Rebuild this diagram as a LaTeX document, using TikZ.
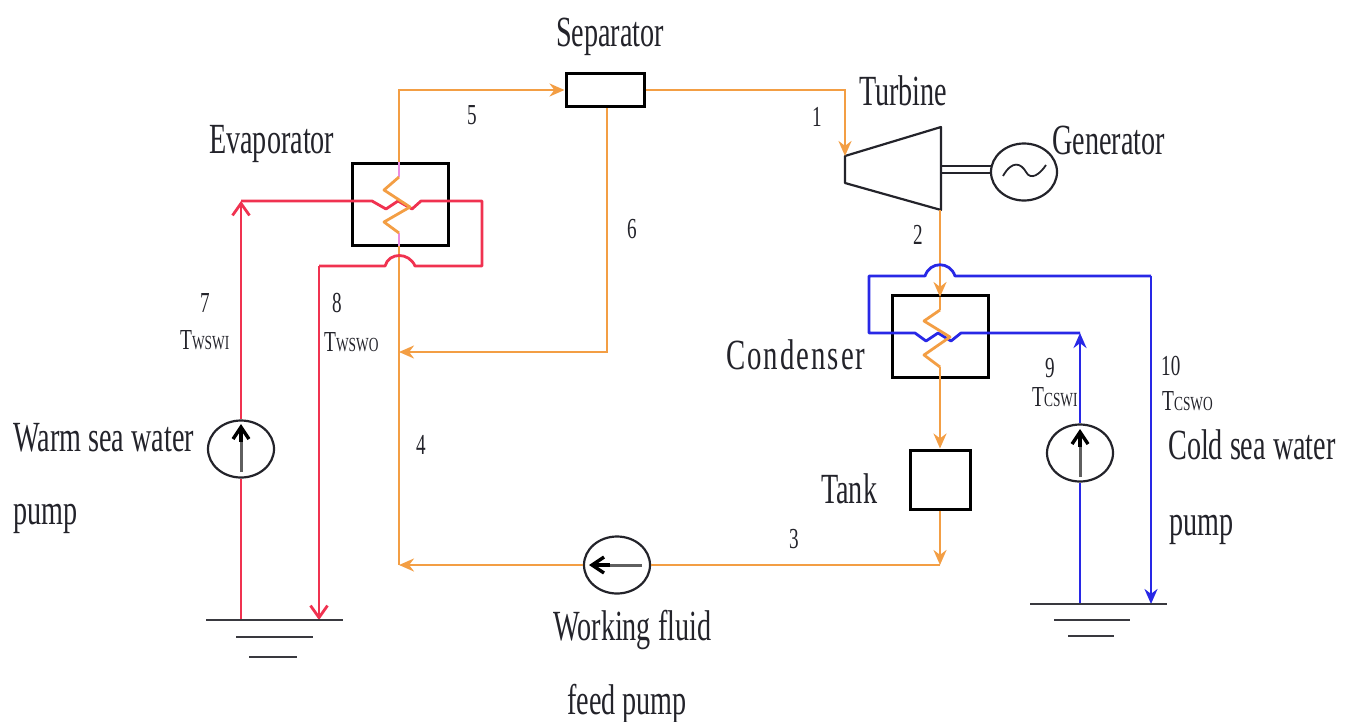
\documentclass[tikz,border=0pt]{standalone}
\usepackage{fontspec}
\setmainfont{Liberation Serif}
\usetikzlibrary{arrows.meta,calc,shapes.geometric}
\definecolor{wf}{RGB}{243,158,68}
\definecolor{warm}{RGB}{240,50,80}
\definecolor{cold}{RGB}{40,40,230}
\definecolor{ink}{RGB}{35,35,42}
\definecolor{shaftgrey}{RGB}{95,95,95}
\definecolor{pinkish}{RGB}{235,140,225}
\newcommand{\biglbl}[1]{\scalebox{.655}[1]{\fontsize{43}{43}\selectfont #1}}
\newcommand{\numlbl}[1]{\scalebox{.66}[1]{\fontsize{29}{29}\selectfont #1}}
\newcommand{\subT}[1]{\scalebox{.67}[1]{\fontsize{29}{29}\selectfont T\fontsize{20}{20}\selectfont #1}}
\tikzset{
  x=1pt,y=-1pt,
  fluid/.style={draw=wf,line width=2.8pt},
  hotline/.style={draw=warm,line width=2.8pt},
  coldline/.style={draw=cold,line width=2.8pt},
  fluidtip/.style={-{Stealth[length=15pt,width=13pt]}},
  barbtip/.style={-{Straight Barb[length=12pt,width=17pt,line width=2.8pt]}},
  hxbox/.style={draw=black,line width=3pt,minimum width=96pt,minimum height=82pt,inner sep=0pt,fill=none},
  plainbox/.style={draw=black,line width=3pt,inner sep=0pt},
  pumpcirc/.style={draw=ink,line width=2.2pt,ellipse,inner sep=0pt},
  mech/.style={draw=ink,line width=2.2pt},
  groundl/.style={draw=ink!90,line width=2.6pt},
  innershaft/.style={draw=shaftgrey,line width=3pt},
  innertip/.style={draw=black,line width=3.4pt,-{Straight Barb[length=12pt,width=16pt,line width=3.4pt]}},
  biglabel/.style={anchor=base west,inner sep=0pt,text=ink},
}
\begin{document}
\begin{tikzpicture}
\useasboundingbox (0,0) rectangle (1349,721);
% equipment nodes
\node[hxbox] (evap) at (400,204) {};
\node[hxbox] (cond) at (940,336.5) {};
\node[plainbox,minimum width=78pt,minimum height=33pt] (sep) at (605,90) {};
\node[plainbox,minimum width=60pt,minimum height=59pt] (tank) at (940,479.5) {};
\node[pumpcirc,minimum width=66pt,minimum height=57pt] (gen) at (1024,172) {};
\node[pumpcirc,minimum width=66pt,minimum height=57pt] (pumpw) at (241,449) {};
\node[pumpcirc,minimum width=66pt,minimum height=57pt] (pumpc) at (1080,453) {};
\node[pumpcirc,minimum width=66pt,minimum height=57pt] (pumpf) at (617,565) {};
% turbine
\coordinate (tin) at (845,156);
\coordinate (ttop) at (941,127);
\coordinate (tbot) at (941,210);
\coordinate (tlow) at (845,183);
\coordinate (sh1) at (941,166);
\coordinate (sh2) at (941,173);
\coordinate (sh1g) at (992,166);
\coordinate (sh2g) at (992,173);
\draw[mech,line join=round] (tin) -- (ttop) -- (tbot) -- (tlow) -- cycle;
\draw[mech,line width=1.6pt] (sh1) -- (sh1g);
\draw[mech,line width=1.6pt] (sh2) -- (sh2g);
\draw[mech,line width=1.8pt] (1003,176) .. controls (1012,160) and (1021,163) .. (1026,172) .. controls (1031,181) and (1040,174) .. (1046,165);
% bends
\coordinate (e1) at (399,90);
\coordinate (sepdrop) at (607,352);
\coordinate (junc6) at (399,352);
\coordinate (c1) at (845,90);
\coordinate (turbout) at (940,210);
\coordinate (condin) at (940,297);
\coordinate (coilin) at (940,310);
\coordinate (coilout) at (940,367);
\coordinate (tee) at (940,565);
\coordinate (lowl) at (399,565);
\coordinate (evalow) at (399,233);
\coordinate (evahigh) at (399,177);
% working fluid lines
\draw[fluid,fluidtip] (evahigh) -- (e1) -- (sep.west);
\draw[fluid,fluidtip] (sep.east) -- (c1) -- (tin);
\draw[fluid,fluidtip] (sep.south -| sepdrop) -- (sepdrop) -- (junc6);
\draw[fluid,fluidtip] (turbout) -- (condin);
\draw[fluid] (condin) -- (coilin);
\draw[fluid,fluidtip] (coilout) -- (tank.north);
\draw[fluid,fluidtip] (tank.south) -- (tee);
\draw[fluid] (tee) -- (pumpf.east);
\draw[fluid,fluidtip] (pumpf.west) -- (lowl);
\draw[fluid] (lowl) -- (evalow);
\draw[draw=pinkish,line width=2.8pt] (399,162) -- (evahigh);
\draw[draw=pinkish,line width=2.8pt] (evalow) -- (399,246);
% warm water
\coordinate (wg) at (241,620);
\coordinate (wh) at (241,201);
\coordinate (wr) at (482,201);
\coordinate (wr2) at (482,266);
\coordinate (wl) at (319,266);
\coordinate (wgo) at (319,620);
\draw[hotline] (wg) -- (pumpw.south);
\draw[hotline,barbtip] (pumpw.north) -- (wh);
\draw[hotline,line join=round] (wh) -- (372,201) -- (386,209) -- (398,201) -- (412,209) -- (421,201) -- (wr) -- (wr2) -- (415,266) .. controls (409,252) and (389,252) .. (385,266) -- (wl);
\draw[hotline,barbtip] (wl) -- (wgo);
% cold water
\coordinate (cg) at (1080,604);
\coordinate (ch) at (1080,333);
\coordinate (cr) at (1151,276);
\coordinate (cgo) at (1151,604);
\coordinate (cl) at (869,276);
\coordinate (cl2) at (869,333);
\draw[coldline] (cg) -- (pumpc.south);
\draw[coldline,fluidtip] (pumpc.north) -- (ch);
\draw[coldline,line join=round] (ch) -- (961,333) -- (951,341) -- (938,333) -- (926,341) -- (915,333) -- (cl2) -- (cl) -- (925,276) .. controls (930,261) and (950,261) .. (955,276) -- (cr);
\draw[coldline,fluidtip] (cr) -- (cgo);
% coils drawn over water lines
\draw[fluid,line join=round] (evahigh) -- (384,190) -- (410,207) -- (384,222) -- (evalow);
\draw[fluid,line join=round] (coilin) -- (924,321) -- (950,337) -- (924,355) -- (coilout);
% pump arrows
\draw[innershaft] (241,472) -- (241,440);
\draw[innertip] (241,442) -- (241,424);
\draw[innershaft] (1080,477) -- (1080,445);
\draw[innertip] (1080,447) -- (1080,429);
\draw[innershaft] (642,565) -- (608,565);
\draw[innertip] (610,565) -- (589,565);
% grounds
\draw[groundl] (206,620) -- (343,620);
\draw[groundl] (236,637) -- (313,637);
\draw[groundl] (249,657) -- (297,657);
\draw[groundl] (1030,604) -- (1167,604);
\draw[groundl] (1054,620) -- (1130,620);
\draw[groundl] (1068,636) -- (1114,636);
% labels
\node[biglabel] (lsep) at (556,46) {\biglbl{Separator}};
\node[biglabel] (ltur) at (859,105) {\biglbl{Turbine}};
\node[biglabel] (lgen) at (1052,154) {\biglbl{Generator}};
\node[biglabel] (leva) at (209,153) {\biglbl{Evaporator}};
\node[biglabel] (lcon) at (726,369) {\scalebox{.67}[1]{\fontsize{43}{43}\selectfont\addfontfeatures{LetterSpace=7}Condenser}};
\node[biglabel] (ltan) at (821,503) {\biglbl{Tank}};
\node[biglabel] (lwa1) at (13,451) {\biglbl{Warm sea water}};
\node[biglabel] (lwa2) at (13,524) {\biglbl{pump}};
\node[biglabel] (lco1) at (1168,459) {\biglbl{Cold sea water}};
\node[biglabel] (lco2) at (1169,535) {\biglbl{pump}};
\node[biglabel] (lwf1) at (553,640) {\biglbl{Working fluid}};
\node[biglabel] (lwf2) at (567,714) {\biglbl{feed pump}};
\node[biglabel] (n5) at (467,124) {\numlbl{5}};
\node[biglabel] (n1) at (812,126) {\numlbl{1}};
\node[biglabel] (n6) at (627,238) {\numlbl{6}};
\node[biglabel] (n2) at (913,244) {\numlbl{2}};
\node[biglabel] (n7) at (200,312) {\numlbl{7}};
\node[biglabel] (t7) at (180,349) {\subT{WSWI}};
\node[biglabel] (n8) at (332,312) {\numlbl{8}};
\node[biglabel] (t8) at (324,351) {\subT{WSWO}};
\node[biglabel] (n4) at (416,454) {\numlbl{4}};
\node[biglabel] (n3) at (789,548) {\numlbl{3}};
\node[biglabel] (n9) at (1045,377) {\numlbl{9}};
\node[biglabel] (t9) at (1032,406) {\subT{CSWI}};
\node[biglabel] (n10) at (1161,375) {\numlbl{10}};
\node[biglabel] (t10) at (1162,410) {\subT{CSWO}};
\end{tikzpicture}
\end{document}
